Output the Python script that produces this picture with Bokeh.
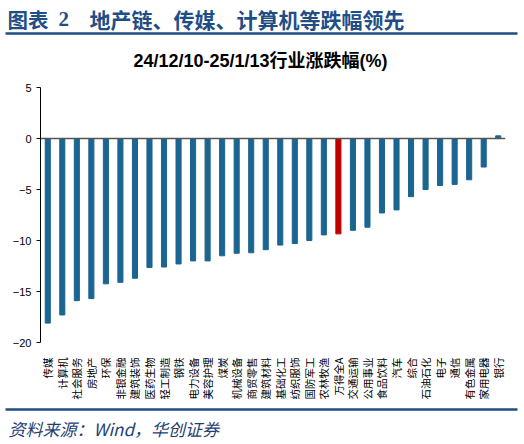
import math
from bokeh.plotting import figure
from bokeh.models import Range1d, FactorRange, FixedTicker, Span, ColumnDataSource
from bokeh.layouts import column
from bokeh.core.properties import value
from bokeh.embed import file_html
from bokeh.resources import INLINE

# ---- data ----
categories = ["传媒", "计算机", "社会服务", "房地产", "环保", "非银金融", "建筑装饰",
              "医药生物", "轻工制造", "钢铁", "电力设备", "美容护理", "煤炭", "机械设备",
              "商贸零售", "建筑材料", "基础化工", "纺织服饰", "国防军工", "农林牧渔",
              "万得全A", "交通运输", "公用事业", "食品饮料", "汽车", "综合", "石油石化",
              "电子", "通信", "有色金属", "家用电器", "银行"]
changes = [-18.1, -17.3, -15.9, -15.7, -14.25, -14.1, -13.7, -12.65, -12.6, -12.3,
           -12.0, -12.0, -11.5, -11.25, -11.2, -10.9, -10.45, -10.3, -10.0, -9.45,
           -9.35, -9.0, -8.7, -7.3, -7.0, -5.7, -5.0, -4.6, -4.5, -4.05, -2.8, 0.26]
highlight = "万得全A"
y_ticks = [5, 0, -5, -10, -15, -20]

fig_title_num = "图表"
fig_title_idx = "2"
fig_title_text = "地产链、传媒、计算机等跌幅领先"
chart_title = "24/12/10-25/1/13行业涨跌幅(%)"
source_text = "资料来源：Wind，华创证券"

NAVY = "#1F4E86"
BAR = "#1B6591"
RED = "#C00000"
CJK = "Noto Sans CJK SC"
W = 524


def no_align(fg):
    try:
        fg.frame_align = False
    except Exception:
        pass


def band(height):
    fg = figure(width=W, height=height, x_range=Range1d(0, W), y_range=Range1d(height, 0),
                x_axis_type=None, y_axis_type=None, toolbar_location=None,
                output_backend="svg", min_border=0, outline_line_color=None)
    fg.grid.visible = False
    no_align(fg)
    return fg


# ---- header ----
h = band(80)
h.text(x=[7], y=[18], text=[fig_title_num], text_font=value(CJK), text_font_style="bold",
       text_font_size="20.5px", text_color=NAVY, text_baseline="middle")
h.text(x=[58], y=[18], text=[fig_title_idx], text_font=value("Liberation Serif"),
       text_font_style="bold", text_font_size="21px", text_color=NAVY, text_baseline="middle")
h.text(x=[89], y=[18], text=[fig_title_text], text_font=value(CJK), text_font_style="bold",
       text_font_size="21px", text_color=NAVY, text_baseline="middle")
h.segment(x0=[5], y0=[33], x1=[517], y1=[33], line_color=NAVY, line_width=2.5)
h.text(x=[260], y=[60], text=[chart_title],
       text_font=value("Liberation Sans, Noto Sans CJK SC"), text_font_style="bold",
       text_font_size="18px", text_color="#000000", text_align="center", text_baseline="middle")

# ---- main chart ----
colors = [RED if c == highlight else BAR for c in categories]
src = ColumnDataSource(dict(cat=categories, val=changes, col=colors))
p = figure(width=W, height=324, x_range=FactorRange(factors=categories, range_padding=0),
           y_range=Range1d(-20, 5), toolbar_location=None, output_backend="svg",
           min_border_left=40, min_border_right=19, min_border_top=7, min_border_bottom=62,
           outline_line_color=None)
no_align(p)
p.vbar(x="cat", top="val", bottom=0, width=0.35, color="col", source=src)
p.grid.visible = False
p.add_layout(Span(location=0, dimension="width", line_color="#555555", line_width=1.5))

p.yaxis.ticker = FixedTicker(ticks=y_ticks)
p.yaxis.minor_tick_line_color = None
p.yaxis.major_tick_in = 0
p.yaxis.major_tick_out = 4
p.yaxis.major_label_text_font = "Liberation Sans"
p.yaxis.major_label_text_font_size = "11px"
p.yaxis.major_label_text_color = "#000000"
p.yaxis.axis_line_color = "#000000"
p.yaxis.major_tick_line_color = "#000000"
p.yaxis.major_label_standoff = 5

p.xaxis.axis_line_color = None
p.xaxis.major_tick_line_color = None
p.xaxis.minor_tick_line_color = None
p.xaxis.major_label_orientation = math.pi / 2
p.xaxis.major_label_text_font = CJK
p.xaxis.major_label_text_font_size = "10.5px"
p.xaxis.major_label_text_color = "#000000"
p.xaxis.major_label_standoff = 9

# ---- footer ----
f = band(40)
f.segment(x0=[5], y0=[5], x1=[517], y1=[5], line_color=NAVY, line_width=2.5)
f.text(x=[8], y=[24], text=[source_text], text_font=value(CJK), text_font_style="italic",
       text_font_size="17px", text_color="#1F3F73", text_baseline="middle")

layout = column(h, p, f, spacing=0)
open("out.html", "w").write(file_html(layout, INLINE))
